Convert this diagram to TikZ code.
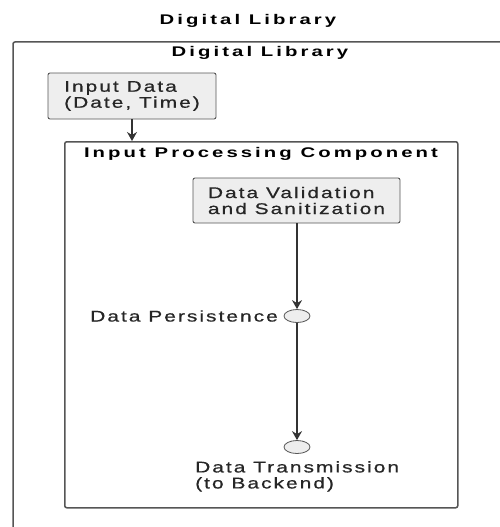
\documentclass[tikz,border=0pt]{standalone}
\usepackage{fontspec}
\setmainfont{Liberation Sans}
\newfontfamily\lblfont[FakeStretch=1.35,LetterSpace=13,FakeBold=0.6]{Liberation Sans}
\newfontfamily\ttlfont[FakeStretch=1.45,LetterSpace=22]{Liberation Sans Bold}
\usetikzlibrary{arrows.meta,shapes.geometric}
\definecolor{edgegray}{HTML}{555555}
\definecolor{boxfill}{HTML}{EEEEEE}
\definecolor{linegray}{HTML}{333333}
\tikzset{
  lbl/.style={font=\lblfont\fontsize{15.5}{16}\selectfont, text=black!85, inner sep=0pt},
  ttl/.style={font=\ttlfont\fontsize{14}{15}\selectfont, text=black, inner sep=0pt},
  procbox/.style={draw=edgegray, fill=boxfill, line width=0.9pt, rounded corners=2pt,
    align=left, font=\lblfont\fontsize{15.5}{16}\selectfont, text=black!85, inner sep=0pt},
  frame/.style={draw=edgegray, line width=1.5pt, rounded corners=2pt},
  junction/.style={ellipse, draw=edgegray, fill=boxfill, line width=0.8pt,
    minimum width=26pt, minimum height=13pt, inner sep=0pt},
  flow/.style={draw=linegray, line width=1.3pt, -{Stealth[length=9pt,width=10pt,inset=3pt]}}
}
\begin{document}
\begin{tikzpicture}[x=1pt,y=-1pt]
\clip (0,0) rectangle (500,527);
\fill[white] (0,0) rectangle (500,527);
% outer frame (cut off at right and bottom)
\draw[frame] (13,42) rectangle (520,550);
\node[ttl] (toptitle) at (248,21) {Digital Library};
\node[ttl] (outertitle) at (260,53) {Digital Library};
% inner frame
\node[frame, minimum width=393pt, minimum height=366pt, inner sep=0pt, anchor=north west] (ipc) at (64,141) {};
\node[ttl] (ipctitle) at (261,154) {Input Processing Component};
% input data box
\node[procbox, minimum width=168pt, minimum height=46pt] (inp) at (132,96) {Input Data\\(Date, Time)};
% validation box
\node[procbox, minimum width=207pt, minimum height=45pt] (val) at (296.5,200.5) {Data Validation\\and Sanitization};
% junctions
\node[junction] (pers) at (297,316) {};
\node[junction] (trans) at (297,447) {};
\node[lbl, anchor=east] (perslbl) at (278,316) {Data Persistence};
\node[lbl, anchor=north west, align=left] (translbl) at (195,461) {Data Transmission\\(to Backend)};
% connectors
\draw[flow] (inp.south) -- (inp.south |- ipc.north);
\draw[flow] (val.south -| pers.north) -- (pers.north);
\draw[flow] (pers.south) -- (trans.north);
\end{tikzpicture}
\end{document}
